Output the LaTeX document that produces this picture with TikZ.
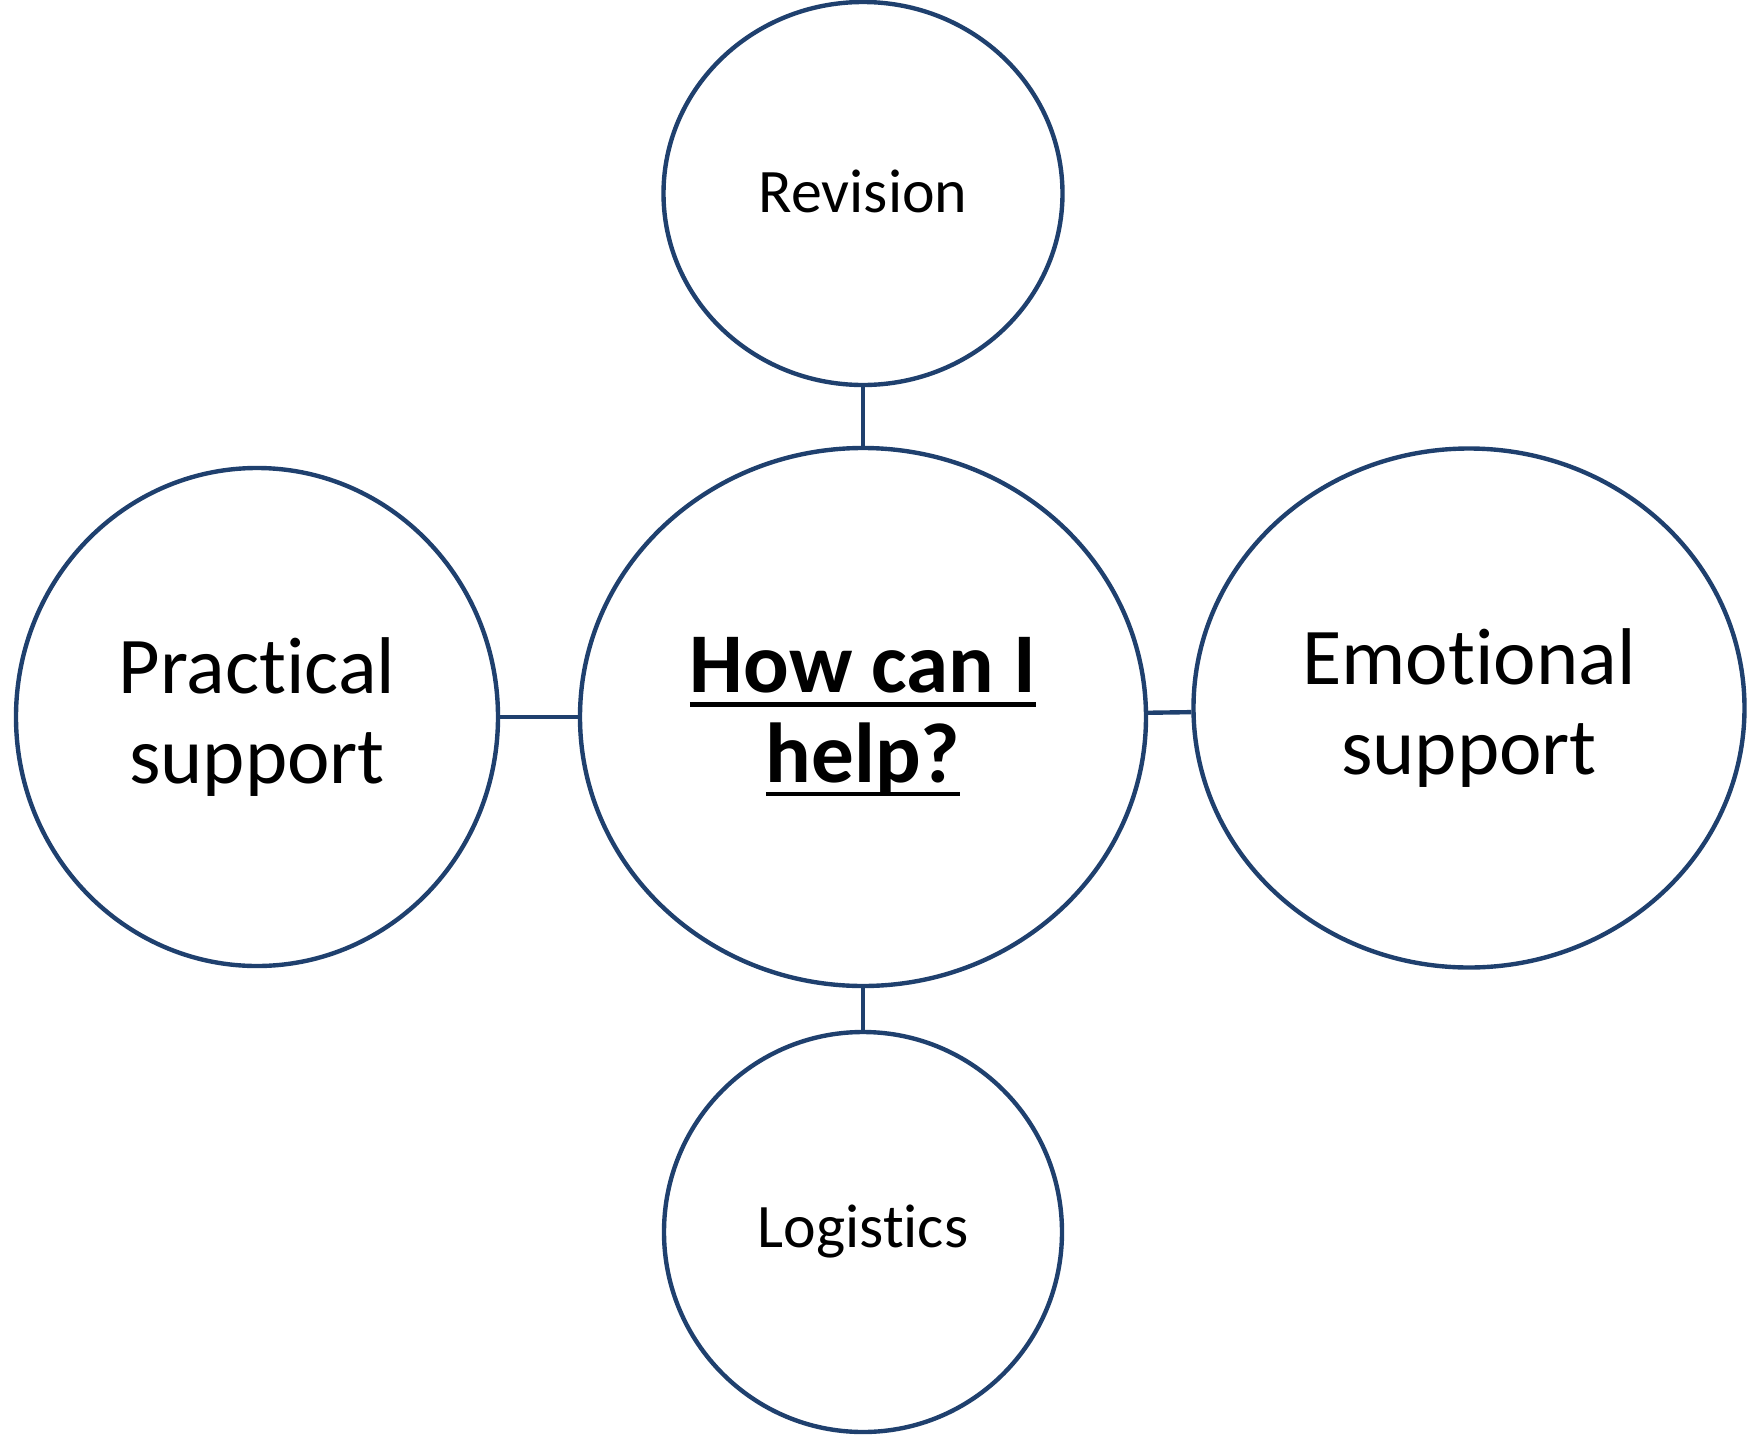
\documentclass[tikz,border=0pt]{standalone}
\usepackage{fontspec}
\setmainfont[Ligatures=NoCommon]{Carlito}
\usetikzlibrary{shapes.geometric}
\definecolor{rimblue}{RGB}{31,64,110}
% thick underline under a whole line of text
\newcommand{\thickul}[1]{\setbox0\hbox{#1}\rlap{\rule[-4pt]{\wd0}{1.4pt}}\box0}

\begin{document}
\begin{tikzpicture}[
  bubble/.style={draw=rimblue,line width=1.25pt,ellipse,inner sep=0pt,align=center},
  small/.style={font=\fontsize{17.6}{21}\selectfont},
  big/.style={font=\fontsize{22.9}{25.5}\selectfont},
  hub/.style={font=\bfseries\fontsize{24.2}{25.5}\selectfont},
  link/.style={draw=rimblue,line width=1.25pt}
]
\useasboundingbox (0,0) rectangle (17.57,-14.40);
\node[bubble,hub,minimum width=5.66cm,minimum height=5.38cm] (help) at (8.63,-7.17) {\thickul{How can I}\\\thickul{help?}};
\node[bubble,small,minimum width=3.99cm,minimum height=3.83cm] (revision) at (8.63,-1.935) {\raisebox{1.2pt}{Revision}};
\node[bubble,big,minimum width=4.82cm,minimum height=4.98cm] (practical) at (2.57,-7.17) {Practical\\support};
\node[bubble,big,minimum width=5.51cm,minimum height=5.19cm] (emotional) at (14.69,-7.08) {Emotional\\support};
\node[bubble,small,minimum width=3.98cm,minimum height=4.00cm] (logistics) at (8.63,-12.32) {Logistics};
\draw[link] (revision) -- (help);
\draw[link] (practical) -- (help);
\draw[link] (help) -- (emotional);
\draw[link] (help) -- (logistics);
\end{tikzpicture}
\end{document}
